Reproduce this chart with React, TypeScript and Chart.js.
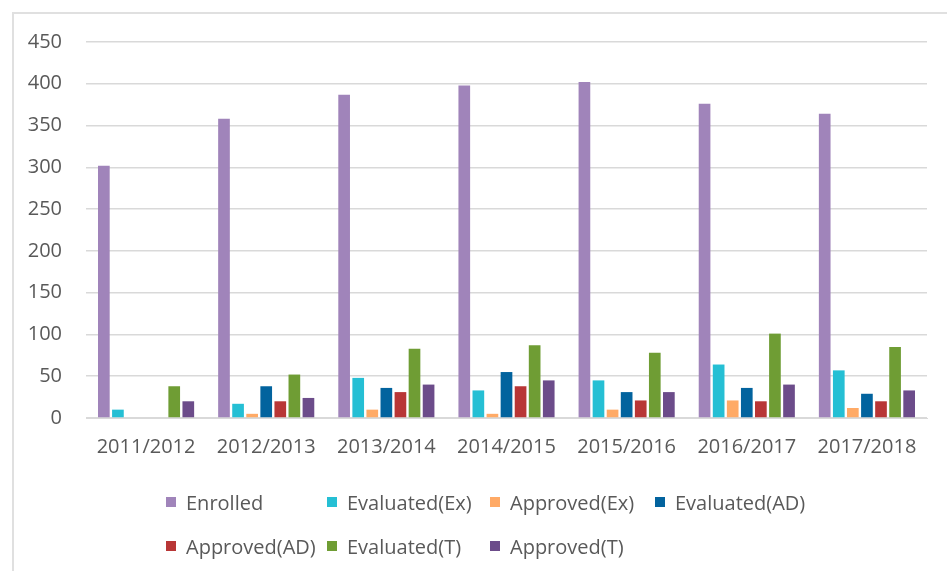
import React, { useEffect, useRef } from "react";
import { Chart, registerables } from "chart.js";

Chart.register(...registerables);

const categories = ["2011/2012", "2012/2013", "2013/2014", "2014/2015", "2015/2016", "2016/2017", "2017/2018"];
const enrolled = [302, 358, 387, 398, 402, 376, 364];
const evaluatedEx = [10, 17, 48, 33, 45, 64, 57];
const approvedEx = [0, 5, 10, 5, 10, 21, 12];
const evaluatedAD = [0, 38, 36, 55, 31, 36, 29];
const approvedAD = [0, 20, 31, 38, 21, 20, 20];
const evaluatedT = [38, 52, 83, 87, 78, 101, 85];
const approvedT = [20, 24, 40, 45, 31, 40, 33];
const yTicks = [0, 50, 100, 150, 200, 250, 300, 350, 400, 450];

const seriesNames = ["Enrolled", "Evaluated(Ex)", "Approved(Ex)", "Evaluated(AD)", "Approved(AD)", "Evaluated(T)", "Approved(T)"];
const seriesValues = [enrolled, evaluatedEx, approvedEx, evaluatedAD, approvedAD, evaluatedT, approvedT];
const seriesColors = ["#A084BA", "#25BFD4", "#FFAA66", "#02639E", "#B83636", "#6F9D34", "#6C4C8A"];

// legend layout (column x positions and row centers)
const legendCols = [166, 327, 490, 655];
const legendRows = [502, 546];

const FONT = "'Open Sans', sans-serif";
const TEXT = "#595959";

export default function App() {
  const ref = useRef<HTMLCanvasElement | null>(null);

  useEffect(() => {
    if (!ref.current) return;
    const chart = new Chart(ref.current, {
      type: "bar",
      data: {
        labels: categories,
        datasets: seriesNames.map((name, i) => ({
          label: name,
          data: seriesValues[i],
          backgroundColor: seriesColors[i],
          borderWidth: 0,
          categoryPercentage: 0.82,
          barPercentage: 0.83,
        })),
      },
      options: {
        responsive: false,
        maintainAspectRatio: false,
        animation: false,
        layout: { padding: { left: 0, right: 20, top: 42, bottom: 0 } },
        plugins: { legend: { display: false }, tooltip: { enabled: false } },
        scales: {
          x: {
            grid: { display: false, drawTicks: false },
            border: { display: true, color: "#d9d9d9", width: 1 },
            ticks: { color: TEXT, font: { family: FONT, size: 20 }, padding: 17, maxRotation: 0 },
            afterFit: (s: any) => { s.height = 153; },
          },
          y: {
            min: 0,
            max: 450,
            afterBuildTicks: (s: any) => { s.ticks = yTicks.map((v) => ({ value: v })); },
            grid: { color: "#d9d9d9", lineWidth: 1.5, drawTicks: false },
            border: { display: false },
            ticks: { color: TEXT, font: { family: FONT, size: 20 }, padding: 24 },
            afterFit: (s: any) => { s.width = 86; },
          },
        },
      },
    });
    return () => chart.destroy();
  }, []);

  return (
    <div style={{ position: "fixed", left: 0, top: 0, width: 947, height: 571, background: "#fff", overflow: "hidden" }}>
      <div style={{ position: "absolute", left: 12, top: 12, width: 1000, height: 700, borderLeft: "2px solid #e0e0e0", borderTop: "2px solid #e0e0e0" }} />
      <canvas ref={ref} width={947} height={571} style={{ position: "absolute", left: 0, top: 0 }} />
      {seriesNames.map((name, i) => {
        const col = i % 4;
        const row = Math.floor(i / 4);
        return (
          <div
            key={name}
            style={{
              position: "absolute",
              left: legendCols[col],
              top: legendRows[row] - 14,
              height: 28,
              display: "flex",
              alignItems: "center",
              fontFamily: FONT,
              fontSize: 20,
              color: TEXT,
              whiteSpace: "nowrap",
            }}
          >
            <span style={{ display: "inline-block", width: 10, height: 10, background: seriesColors[i], marginRight: 10 }} />
            <span>{name}</span>
          </div>
        );
      })}
    </div>
  );
}
